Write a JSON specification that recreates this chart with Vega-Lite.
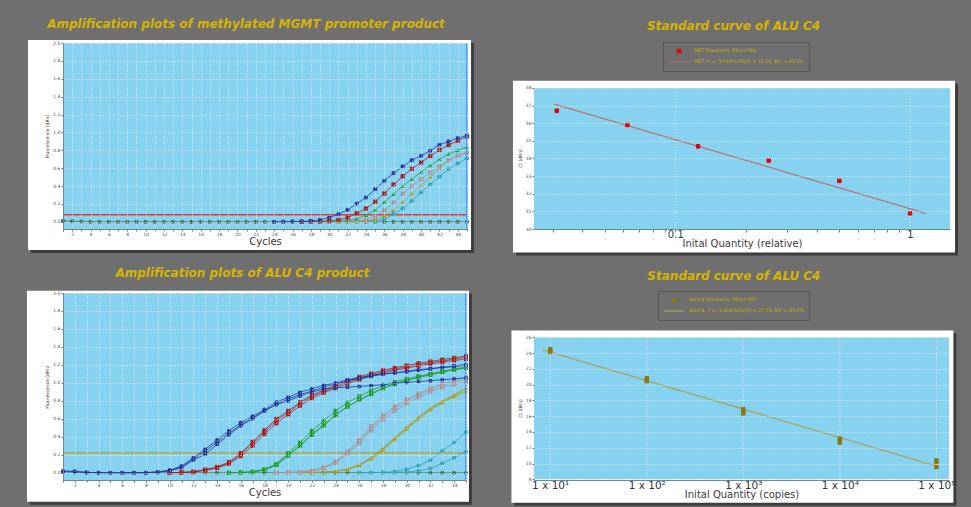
{
"$schema": "https://vega.github.io/schema/vega-lite/v6.json",
"background": "#6f6f6f",
"padding": {"left": 26, "top": 17, "right": 14, "bottom": 2},
"columns": 2,
"spacing": {"row": 64, "column": 67},
"bounds": "flush",
"align": "each",
"resolve": {"scale": {"color": "independent", "shape": "independent", "size": "independent"}, "legend": {"color": "independent", "shape": "independent", "size": "independent"}},
"config": {
  "view": {"stroke": null},
  "font": "DejaVu Sans",
  "axis": {"labelFont": "DejaVu Sans", "titleFont": "DejaVu Sans", "labelColor": "#4a4a4a", "titleColor": "#3a3a3a", "titleFontWeight": "normal", "tickColor": "#6a7a80", "domainColor": "#6a8a9a", "gridColor": "#ffffff", "gridDash": [1, 2], "gridOpacity": 0.75, "labelOverlap": false, "labelFlush": false},
  "title": {"font": "DejaVu Sans", "fontSize": 12, "fontStyle": "italic", "fontWeight": "bold", "color": "#d6b400", "anchor": "middle", "frame": "bounds"},
  "legend": {"title": "Log fit values", "orient": "none", "direction": "vertical", "titleAnchor": "middle", "titleColor": "#c8b400", "titleFontSize": 5, "titleFontWeight": "normal", "titlePadding": 4, "labelColor": "#c8b400", "labelFontSize": 4.7, "labelLimit": 300, "labelOffset": 4, "fillColor": "#6f6f6f", "strokeColor": "#555555", "padding": 5, "rowPadding": 3, "symbolStrokeWidth": 1.2, "clipHeight": 8}
},
"datasets": {
  "tl": [
    {"g":"N","c":1,"v":0.01},{"g":"N","c":2,"v":0.006},{"g":"N","c":3,"v":0.003},{"g":"N","c":4,"v":0},{"g":"N","c":5,"v":0},{"g":"N","c":6,"v":0},{"g":"N","c":7,"v":0},{"g":"N","c":8,"v":0},{"g":"N","c":9,"v":0},{"g":"N","c":10,"v":0},{"g":"N","c":11,"v":0},{"g":"N","c":12,"v":0},{"g":"N","c":13,"v":0},{"g":"N","c":14,"v":0},{"g":"N","c":15,"v":0},{"g":"N","c":16,"v":0},{"g":"N","c":17,"v":0},{"g":"N","c":18,"v":0},{"g":"N","c":19,"v":0},{"g":"N","c":20,"v":0},{"g":"N","c":21,"v":0},{"g":"N","c":22,"v":0},{"g":"N","c":23,"v":0},{"g":"N","c":24,"v":0},{"g":"N","c":25,"v":0},{"g":"N","c":26,"v":0},{"g":"N","c":27,"v":0},{"g":"N","c":28,"v":0},{"g":"N","c":29,"v":0},{"g":"N","c":30,"v":0},{"g":"N","c":31,"v":0},{"g":"N","c":32,"v":0},{"g":"N","c":33,"v":0},{"g":"N","c":34,"v":0},{"g":"N","c":35,"v":0},{"g":"N","c":36,"v":0},{"g":"N","c":37,"v":0},{"g":"N","c":38,"v":0},{"g":"N","c":39,"v":0},{"g":"N","c":40,"v":0},{"g":"N","c":41,"v":0},{"g":"N","c":42,"v":0},{"g":"N","c":43,"v":0},{"g":"N","c":44,"v":0},{"g":"N","c":45,"v":0},
    {"g":"T","c":32,"v":0},{"g":"T","c":33,"v":0.003},{"g":"T","c":34,"v":0.007},{"g":"T","c":35,"v":0.012},{"g":"T","c":36,"v":0.03},{"g":"T","c":37,"v":0.085},{"g":"T","c":38,"v":0.15},{"g":"T","c":39,"v":0.235},{"g":"T","c":40,"v":0.33},{"g":"T","c":41,"v":0.42},{"g":"T","c":42,"v":0.505},{"g":"T","c":43,"v":0.59},{"g":"T","c":44,"v":0.655},{"g":"T","c":45,"v":0.71},
    {"g":"Y","c":31,"v":0},{"g":"Y","c":32,"v":0.003},{"g":"Y","c":33,"v":0.006},{"g":"Y","c":34,"v":0.01},{"g":"Y","c":35,"v":0.025},{"g":"Y","c":36,"v":0.065},{"g":"Y","c":37,"v":0.13},{"g":"Y","c":38,"v":0.22},{"g":"Y","c":39,"v":0.315},{"g":"Y","c":40,"v":0.41},{"g":"Y","c":41,"v":0.5},{"g":"Y","c":42,"v":0.6},{"g":"Y","c":43,"v":0.69},{"g":"Y","c":44,"v":0.74},{"g":"Y","c":45,"v":0.775},
    {"g":"P","c":30,"v":0},{"g":"P","c":31,"v":0.003},{"g":"P","c":32,"v":0.007},{"g":"P","c":33,"v":0.012},{"g":"P","c":34,"v":0.025},{"g":"P","c":35,"v":0.06},{"g":"P","c":36,"v":0.13},{"g":"P","c":37,"v":0.215},{"g":"P","c":38,"v":0.315},{"g":"P","c":39,"v":0.4},{"g":"P","c":40,"v":0.478},{"g":"P","c":41,"v":0.552},{"g":"P","c":42,"v":0.62},{"g":"P","c":43,"v":0.69},{"g":"P","c":44,"v":0.74},{"g":"P","c":45,"v":0.776},
    {"g":"G","c":29,"v":0},{"g":"G","c":30,"v":0.004},{"g":"G","c":31,"v":0.008},{"g":"G","c":32,"v":0.016},{"g":"G","c":33,"v":0.035},{"g":"G","c":34,"v":0.075},{"g":"G","c":35,"v":0.135},{"g":"G","c":36,"v":0.22},{"g":"G","c":37,"v":0.31},{"g":"G","c":38,"v":0.4},{"g":"G","c":39,"v":0.48},{"g":"G","c":40,"v":0.555},{"g":"G","c":41,"v":0.63},{"g":"G","c":42,"v":0.7},{"g":"G","c":43,"v":0.76},{"g":"G","c":44,"v":0.8},{"g":"G","c":45,"v":0.835},
    {"g":"R","c":27,"v":0},{"g":"R","c":28,"v":0.003},{"g":"R","c":29,"v":0.006},{"g":"R","c":30,"v":0.012},{"g":"R","c":31,"v":0.022},{"g":"R","c":32,"v":0.048},{"g":"R","c":33,"v":0.095},{"g":"R","c":34,"v":0.149},{"g":"R","c":35,"v":0.225},{"g":"R","c":36,"v":0.317},{"g":"R","c":37,"v":0.418},{"g":"R","c":38,"v":0.51},{"g":"R","c":39,"v":0.593},{"g":"R","c":40,"v":0.664},{"g":"R","c":41,"v":0.737},{"g":"R","c":42,"v":0.804},{"g":"R","c":43,"v":0.86},{"g":"R","c":44,"v":0.907},{"g":"R","c":45,"v":0.955},
    {"g":"B","c":24,"v":0},{"g":"B","c":25,"v":0.002},{"g":"B","c":26,"v":0.004},{"g":"B","c":27,"v":0.006},{"g":"B","c":28,"v":0.011},{"g":"B","c":29,"v":0.022},{"g":"B","c":30,"v":0.048},{"g":"B","c":31,"v":0.086},{"g":"B","c":32,"v":0.134},{"g":"B","c":33,"v":0.205},{"g":"B","c":34,"v":0.272},{"g":"B","c":35,"v":0.365},{"g":"B","c":36,"v":0.459},{"g":"B","c":37,"v":0.545},{"g":"B","c":38,"v":0.619},{"g":"B","c":39,"v":0.69},{"g":"B","c":40,"v":0.739},{"g":"B","c":41,"v":0.795},{"g":"B","c":42,"v":0.862},{"g":"B","c":43,"v":0.9},{"g":"B","c":44,"v":0.937},{"g":"B","c":45,"v":0.966}
  ],
  "bl": [
    {"s":"N","c":1,"v":0.01},{"s":"N","c":2,"v":0.005},{"s":"N","c":3,"v":0},{"s":"N","c":4,"v":0},{"s":"N","c":5,"v":0},{"s":"N","c":6,"v":0},{"s":"N","c":7,"v":0},{"s":"N","c":8,"v":0},{"s":"N","c":9,"v":0},{"s":"N","c":10,"v":0},{"s":"N","c":11,"v":0},{"s":"N","c":12,"v":0},{"s":"N","c":13,"v":0},{"s":"N","c":14,"v":0},{"s":"N","c":15,"v":0},{"s":"N","c":16,"v":0},{"s":"N","c":17,"v":0},{"s":"N","c":18,"v":0},{"s":"N","c":19,"v":0},{"s":"N","c":20,"v":0},{"s":"N","c":21,"v":0},{"s":"N","c":22,"v":0},{"s":"N","c":23,"v":0},{"s":"N","c":24,"v":0},{"s":"N","c":25,"v":0},{"s":"N","c":26,"v":0},{"s":"N","c":27,"v":0},{"s":"N","c":28,"v":0},{"s":"N","c":29,"v":0},{"s":"N","c":30,"v":0},{"s":"N","c":31,"v":0},{"s":"N","c":32,"v":0},{"s":"N","c":33,"v":0},{"s":"N","c":34,"v":0},{"s":"N","c":35,"v":0},
    {"s":"T2","c":28,"v":0},{"s":"T2","c":29,"v":0.004},{"s":"T2","c":30,"v":0.01},{"s":"T2","c":31,"v":0.02},{"s":"T2","c":32,"v":0.05},{"s":"T2","c":33,"v":0.105},{"s":"T2","c":34,"v":0.168},{"s":"T2","c":35,"v":0.235},
    {"s":"T1","c":26,"v":0},{"s":"T1","c":27,"v":0.002},{"s":"T1","c":28,"v":0.005},{"s":"T1","c":29,"v":0.015},{"s":"T1","c":30,"v":0.04},{"s":"T1","c":31,"v":0.08},{"s":"T1","c":32,"v":0.14},{"s":"T1","c":33,"v":0.245},{"s":"T1","c":34,"v":0.336},{"s":"T1","c":35,"v":0.455},
    {"s":"Y1","c":21,"v":0},{"s":"Y1","c":22,"v":0.003},{"s":"Y1","c":23,"v":0.008},{"s":"Y1","c":24,"v":0.015},{"s":"Y1","c":25,"v":0.04},{"s":"Y1","c":26,"v":0.085},{"s":"Y1","c":27,"v":0.165},{"s":"Y1","c":28,"v":0.265},{"s":"Y1","c":29,"v":0.385},{"s":"Y1","c":30,"v":0.5},{"s":"Y1","c":31,"v":0.61},{"s":"Y1","c":32,"v":0.71},{"s":"Y1","c":33,"v":0.79},{"s":"Y1","c":34,"v":0.86},{"s":"Y1","c":35,"v":0.93},
    {"s":"Y2","c":21,"v":0},{"s":"Y2","c":22,"v":0.002},{"s":"Y2","c":23,"v":0.006},{"s":"Y2","c":24,"v":0.013},{"s":"Y2","c":25,"v":0.035},{"s":"Y2","c":26,"v":0.08},{"s":"Y2","c":27,"v":0.155},{"s":"Y2","c":28,"v":0.25},{"s":"Y2","c":29,"v":0.37},{"s":"Y2","c":30,"v":0.485},{"s":"Y2","c":31,"v":0.6},{"s":"Y2","c":32,"v":0.7},{"s":"Y2","c":33,"v":0.78},{"s":"Y2","c":34,"v":0.845},{"s":"Y2","c":35,"v":0.905},
    {"s":"Y3","c":21,"v":0},{"s":"Y3","c":22,"v":0.003},{"s":"Y3","c":23,"v":0.009},{"s":"Y3","c":24,"v":0.017},{"s":"Y3","c":25,"v":0.042},{"s":"Y3","c":26,"v":0.09},{"s":"Y3","c":27,"v":0.17},{"s":"Y3","c":28,"v":0.275},{"s":"Y3","c":29,"v":0.395},{"s":"Y3","c":30,"v":0.51},{"s":"Y3","c":31,"v":0.62},{"s":"Y3","c":32,"v":0.72},{"s":"Y3","c":33,"v":0.8},{"s":"Y3","c":34,"v":0.87},{"s":"Y3","c":35,"v":0.95},
    {"s":"P1","c":19,"v":0},{"s":"P1","c":20,"v":0.004},{"s":"P1","c":21,"v":0.01},{"s":"P1","c":22,"v":0.025},{"s":"P1","c":23,"v":0.06},{"s":"P1","c":24,"v":0.125},{"s":"P1","c":25,"v":0.24},{"s":"P1","c":26,"v":0.37},{"s":"P1","c":27,"v":0.52},{"s":"P1","c":28,"v":0.64},{"s":"P1","c":29,"v":0.74},{"s":"P1","c":30,"v":0.82},{"s":"P1","c":31,"v":0.88},{"s":"P1","c":32,"v":0.94},{"s":"P1","c":33,"v":0.99},{"s":"P1","c":34,"v":1.03},{"s":"P1","c":35,"v":1.06},
    {"s":"P2","c":19,"v":0},{"s":"P2","c":20,"v":0.003},{"s":"P2","c":21,"v":0.008},{"s":"P2","c":22,"v":0.02},{"s":"P2","c":23,"v":0.05},{"s":"P2","c":24,"v":0.11},{"s":"P2","c":25,"v":0.21},{"s":"P2","c":26,"v":0.33},{"s":"P2","c":27,"v":0.47},{"s":"P2","c":28,"v":0.59},{"s":"P2","c":29,"v":0.69},{"s":"P2","c":30,"v":0.77},{"s":"P2","c":31,"v":0.84},{"s":"P2","c":32,"v":0.9},{"s":"P2","c":33,"v":0.95},{"s":"P2","c":34,"v":0.98},{"s":"P2","c":35,"v":1.01},
    {"s":"P3","c":19,"v":0},{"s":"P3","c":20,"v":0.003},{"s":"P3","c":21,"v":0.009},{"s":"P3","c":22,"v":0.022},{"s":"P3","c":23,"v":0.055},{"s":"P3","c":24,"v":0.12},{"s":"P3","c":25,"v":0.225},{"s":"P3","c":26,"v":0.35},{"s":"P3","c":27,"v":0.5},{"s":"P3","c":28,"v":0.62},{"s":"P3","c":29,"v":0.72},{"s":"P3","c":30,"v":0.8},{"s":"P3","c":31,"v":0.865},{"s":"P3","c":32,"v":0.925},{"s":"P3","c":33,"v":0.975},{"s":"P3","c":34,"v":1.01},{"s":"P3","c":35,"v":1.04},
    {"s":"G1","c":15,"v":0},{"s":"G1","c":16,"v":0.004},{"s":"G1","c":17,"v":0.012},{"s":"G1","c":18,"v":0.04},{"s":"G1","c":19,"v":0.1},{"s":"G1","c":20,"v":0.22},{"s":"G1","c":21,"v":0.336},{"s":"G1","c":22,"v":0.467},{"s":"G1","c":23,"v":0.58},{"s":"G1","c":24,"v":0.69},{"s":"G1","c":25,"v":0.78},{"s":"G1","c":26,"v":0.85},{"s":"G1","c":27,"v":0.915},{"s":"G1","c":28,"v":0.97},{"s":"G1","c":29,"v":1.01},{"s":"G1","c":30,"v":1.045},{"s":"G1","c":31,"v":1.075},{"s":"G1","c":32,"v":1.1},{"s":"G1","c":33,"v":1.13},{"s":"G1","c":34,"v":1.155},{"s":"G1","c":35,"v":1.175},
    {"s":"G2","c":15,"v":0},{"s":"G2","c":16,"v":0.003},{"s":"G2","c":17,"v":0.01},{"s":"G2","c":18,"v":0.035},{"s":"G2","c":19,"v":0.09},{"s":"G2","c":20,"v":0.2},{"s":"G2","c":21,"v":0.306},{"s":"G2","c":22,"v":0.43},{"s":"G2","c":23,"v":0.534},{"s":"G2","c":24,"v":0.646},{"s":"G2","c":25,"v":0.74},{"s":"G2","c":26,"v":0.81},{"s":"G2","c":27,"v":0.878},{"s":"G2","c":28,"v":0.945},{"s":"G2","c":29,"v":0.99},{"s":"G2","c":30,"v":1.03},{"s":"G2","c":31,"v":1.065},{"s":"G2","c":32,"v":1.095},{"s":"G2","c":33,"v":1.12},{"s":"G2","c":34,"v":1.145},{"s":"G2","c":35,"v":1.165},
    {"s":"G3","c":15,"v":0},{"s":"G3","c":16,"v":0.003},{"s":"G3","c":17,"v":0.009},{"s":"G3","c":18,"v":0.03},{"s":"G3","c":19,"v":0.085},{"s":"G3","c":20,"v":0.19},{"s":"G3","c":21,"v":0.3},{"s":"G3","c":22,"v":0.42},{"s":"G3","c":23,"v":0.525},{"s":"G3","c":24,"v":0.64},{"s":"G3","c":25,"v":0.735},{"s":"G3","c":26,"v":0.81},{"s":"G3","c":27,"v":0.875},{"s":"G3","c":28,"v":0.94},{"s":"G3","c":29,"v":0.985},{"s":"G3","c":30,"v":1.025},{"s":"G3","c":31,"v":1.06},{"s":"G3","c":32,"v":1.09},{"s":"G3","c":33,"v":1.12},{"s":"G3","c":34,"v":1.15},{"s":"G3","c":35,"v":1.17},
    {"s":"R1","c":10,"v":0},{"s":"R1","c":11,"v":0.004},{"s":"R1","c":12,"v":0.01},{"s":"R1","c":13,"v":0.033},{"s":"R1","c":14,"v":0.06},{"s":"R1","c":15,"v":0.11},{"s":"R1","c":16,"v":0.206},{"s":"R1","c":17,"v":0.33},{"s":"R1","c":18,"v":0.458},{"s":"R1","c":19,"v":0.579},{"s":"R1","c":20,"v":0.673},{"s":"R1","c":21,"v":0.77},{"s":"R1","c":22,"v":0.85},{"s":"R1","c":23,"v":0.905},{"s":"R1","c":24,"v":0.96},{"s":"R1","c":25,"v":1.01},{"s":"R1","c":26,"v":1.05},{"s":"R1","c":27,"v":1.09},{"s":"R1","c":28,"v":1.125},{"s":"R1","c":29,"v":1.155},{"s":"R1","c":30,"v":1.18},{"s":"R1","c":31,"v":1.205},{"s":"R1","c":32,"v":1.225},{"s":"R1","c":33,"v":1.245},{"s":"R1","c":34,"v":1.265},{"s":"R1","c":35,"v":1.285},
    {"s":"R2","c":10,"v":0},{"s":"R2","c":11,"v":0.003},{"s":"R2","c":12,"v":0.008},{"s":"R2","c":13,"v":0.028},{"s":"R2","c":14,"v":0.052},{"s":"R2","c":15,"v":0.1},{"s":"R2","c":16,"v":0.185},{"s":"R2","c":17,"v":0.3},{"s":"R2","c":18,"v":0.43},{"s":"R2","c":19,"v":0.55},{"s":"R2","c":20,"v":0.65},{"s":"R2","c":21,"v":0.745},{"s":"R2","c":22,"v":0.83},{"s":"R2","c":23,"v":0.89},{"s":"R2","c":24,"v":0.94},{"s":"R2","c":25,"v":0.99},{"s":"R2","c":26,"v":1.035},{"s":"R2","c":27,"v":1.075},{"s":"R2","c":28,"v":1.11},{"s":"R2","c":29,"v":1.14},{"s":"R2","c":30,"v":1.165},{"s":"R2","c":31,"v":1.19},{"s":"R2","c":32,"v":1.21},{"s":"R2","c":33,"v":1.23},{"s":"R2","c":34,"v":1.25},{"s":"R2","c":35,"v":1.265},
    {"s":"R3","c":10,"v":0},{"s":"R3","c":11,"v":0.005},{"s":"R3","c":12,"v":0.012},{"s":"R3","c":13,"v":0.036},{"s":"R3","c":14,"v":0.066},{"s":"R3","c":15,"v":0.12},{"s":"R3","c":16,"v":0.22},{"s":"R3","c":17,"v":0.345},{"s":"R3","c":18,"v":0.475},{"s":"R3","c":19,"v":0.6},{"s":"R3","c":20,"v":0.69},{"s":"R3","c":21,"v":0.785},{"s":"R3","c":22,"v":0.865},{"s":"R3","c":23,"v":0.92},{"s":"R3","c":24,"v":0.975},{"s":"R3","c":25,"v":1.025},{"s":"R3","c":26,"v":1.07},{"s":"R3","c":27,"v":1.105},{"s":"R3","c":28,"v":1.14},{"s":"R3","c":29,"v":1.17},{"s":"R3","c":30,"v":1.195},{"s":"R3","c":31,"v":1.22},{"s":"R3","c":32,"v":1.24},{"s":"R3","c":33,"v":1.26},{"s":"R3","c":34,"v":1.28},{"s":"R3","c":35,"v":1.3},
    {"s":"B3","c":6,"v":0},{"s":"B3","c":7,"v":0},{"s":"B3","c":8,"v":0.002},{"s":"B3","c":9,"v":0.009},{"s":"B3","c":10,"v":0.025},{"s":"B3","c":11,"v":0.065},{"s":"B3","c":12,"v":0.155},{"s":"B3","c":13,"v":0.24},{"s":"B3","c":14,"v":0.34},{"s":"B3","c":15,"v":0.44},{"s":"B3","c":16,"v":0.535},{"s":"B3","c":17,"v":0.61},{"s":"B3","c":18,"v":0.69},{"s":"B3","c":19,"v":0.76},{"s":"B3","c":20,"v":0.8},{"s":"B3","c":21,"v":0.855},{"s":"B3","c":22,"v":0.9},{"s":"B3","c":23,"v":0.93},{"s":"B3","c":24,"v":0.946},{"s":"B3","c":25,"v":0.953},{"s":"B3","c":26,"v":0.961},{"s":"B3","c":27,"v":0.97},{"s":"B3","c":28,"v":0.98},{"s":"B3","c":29,"v":0.995},{"s":"B3","c":30,"v":1.005},{"s":"B3","c":31,"v":1.015},{"s":"B3","c":32,"v":1.025},{"s":"B3","c":33,"v":1.035},{"s":"B3","c":34,"v":1.045},{"s":"B3","c":35,"v":1.057},
    {"s":"B2","c":1,"v":0.015},{"s":"B2","c":2,"v":0.012},{"s":"B2","c":3,"v":0.004},{"s":"B2","c":4,"v":0},{"s":"B2","c":5,"v":0},{"s":"B2","c":6,"v":0},{"s":"B2","c":7,"v":0},{"s":"B2","c":8,"v":0.002},{"s":"B2","c":9,"v":0.008},{"s":"B2","c":10,"v":0.02},{"s":"B2","c":11,"v":0.056},{"s":"B2","c":12,"v":0.142},{"s":"B2","c":13,"v":0.206},{"s":"B2","c":14,"v":0.317},{"s":"B2","c":15,"v":0.422},{"s":"B2","c":16,"v":0.523},{"s":"B2","c":17,"v":0.6},{"s":"B2","c":18,"v":0.69},{"s":"B2","c":19,"v":0.76},{"s":"B2","c":20,"v":0.82},{"s":"B2","c":21,"v":0.87},{"s":"B2","c":22,"v":0.91},{"s":"B2","c":23,"v":0.953},{"s":"B2","c":24,"v":0.99},{"s":"B2","c":25,"v":1.02},{"s":"B2","c":26,"v":1.05},{"s":"B2","c":27,"v":1.075},{"s":"B2","c":28,"v":1.095},{"s":"B2","c":29,"v":1.11},{"s":"B2","c":30,"v":1.125},{"s":"B2","c":31,"v":1.14},{"s":"B2","c":32,"v":1.155},{"s":"B2","c":33,"v":1.17},{"s":"B2","c":34,"v":1.18},{"s":"B2","c":35,"v":1.195},
    {"s":"B1","c":1,"v":0.02},{"s":"B1","c":2,"v":0.018},{"s":"B1","c":3,"v":0.006},{"s":"B1","c":4,"v":0.002},{"s":"B1","c":5,"v":0},{"s":"B1","c":6,"v":0},{"s":"B1","c":7,"v":0},{"s":"B1","c":8,"v":0.002},{"s":"B1","c":9,"v":0.01},{"s":"B1","c":10,"v":0.03},{"s":"B1","c":11,"v":0.075},{"s":"B1","c":12,"v":0.168},{"s":"B1","c":13,"v":0.262},{"s":"B1","c":14,"v":0.366},{"s":"B1","c":15,"v":0.467},{"s":"B1","c":16,"v":0.56},{"s":"B1","c":17,"v":0.628},{"s":"B1","c":18,"v":0.703},{"s":"B1","c":19,"v":0.785},{"s":"B1","c":20,"v":0.84},{"s":"B1","c":21,"v":0.897},{"s":"B1","c":22,"v":0.934},{"s":"B1","c":23,"v":0.975},{"s":"B1","c":24,"v":1.0},{"s":"B1","c":25,"v":1.035},{"s":"B1","c":26,"v":1.058},{"s":"B1","c":27,"v":1.085},{"s":"B1","c":28,"v":1.1},{"s":"B1","c":29,"v":1.114},{"s":"B1","c":30,"v":1.128},{"s":"B1","c":31,"v":1.147},{"s":"B1","c":32,"v":1.16},{"s":"B1","c":33,"v":1.175},{"s":"B1","c":34,"v":1.19},{"s":"B1","c":35,"v":1.205}
  ],
  "trp": [
    {"q":0.03125,"ct":36.71,"lg":"MET Standards, RSq:0.981"},
    {"q":0.0625,"ct":35.9,"lg":"MET Standards, RSq:0.981"},
    {"q":0.125,"ct":34.69,"lg":"MET Standards, RSq:0.981"},
    {"q":0.25,"ct":33.88,"lg":"MET Standards, RSq:0.981"},
    {"q":0.5,"ct":32.73,"lg":"MET Standards, RSq:0.981"},
    {"q":1,"ct":30.89,"lg":"MET Standards, RSq:0.981"}
  ],
  "trf": [
    {"q":0.0305,"ct":37.09,"lg":"MET, Y = -3.910*LOG(X) + 31.16, Eff. = 80.2%"},
    {"q":1.17,"ct":30.89,"lg":"MET, Y = -3.910*LOG(X) + 31.16, Eff. = 80.2%"}
  ],
  "brp": [
    {"q":10,"ct":24.5,"lg":"ALUC4 Standards, RSq:0.997"},
    {"q":10,"ct":24.3,"lg":"ALUC4 Standards, RSq:0.997"},
    {"q":10,"ct":24.15,"lg":"ALUC4 Standards, RSq:0.997"},
    {"q":100,"ct":20.8,"lg":"ALUC4 Standards, RSq:0.997"},
    {"q":100,"ct":20.6,"lg":"ALUC4 Standards, RSq:0.997"},
    {"q":100,"ct":20.45,"lg":"ALUC4 Standards, RSq:0.997"},
    {"q":1000,"ct":16.9,"lg":"ALUC4 Standards, RSq:0.997"},
    {"q":1000,"ct":16.6,"lg":"ALUC4 Standards, RSq:0.997"},
    {"q":1000,"ct":16.35,"lg":"ALUC4 Standards, RSq:0.997"},
    {"q":10000,"ct":13.15,"lg":"ALUC4 Standards, RSq:0.997"},
    {"q":10000,"ct":12.9,"lg":"ALUC4 Standards, RSq:0.997"},
    {"q":10000,"ct":12.65,"lg":"ALUC4 Standards, RSq:0.997"},
    {"q":100000,"ct":10.4,"lg":"ALUC4 Standards, RSq:0.997"},
    {"q":100000,"ct":10.2,"lg":"ALUC4 Standards, RSq:0.997"},
    {"q":100000,"ct":9.55,"lg":"ALUC4 Standards, RSq:0.997"}
  ],
  "brf": [
    {"q":8.34,"ct":24.42,"lg":"ALUC4, Y = -3.618*LOG(X) + 27.75, Eff. = 89.0%"},
    {"q":106400,"ct":9.56,"lg":"ALUC4, Y = -3.618*LOG(X) + 27.75, Eff. = 89.0%"}
  ]
},
"concat": [
  {
    "width": 404, "height": 186,
    "title": {"text": "Amplification plots of methylated MGMT promoter product", "offset": 9, "dx": -5},
    "layer": [
      {"data": {"values": [{}]}, "mark": {"type": "rect", "color": "#3d3d3d"}, "encoding": {"x": {"datum": -2.48}, "x2": {"datum": 45.77}, "y": {"datum": 2.0}, "y2": {"datum": -0.349}}},
      {"data": {"values": [{}]}, "mark": {"type": "rect", "color": "#ffffff"}, "encoding": {"x": {"datum": -2.81}, "x2": {"datum": 45.44}, "y": {"datum": 2.034}, "y2": {"datum": -0.315}}},
      {"data": {"values": [{}]}, "mark": {"type": "rect", "color": "#87d2f0"}, "encoding": {"x": {"datum": 1}, "x2": {"datum": 45}, "y": {"datum": -0.08}, "y2": {"datum": 2.0}}},
      {"data": {"values": [{}]}, "mark": {"type": "rule", "color": "#e53a3a", "strokeWidth": 1.6}, "encoding": {"y": {"datum": 0.08}}},
      {"data": {"name": "tl"}, "mark": {"type": "line", "strokeWidth": 1, "opacity": 0.75},
       "encoding": {
         "x": {"field": "c", "type": "quantitative", "scale": {"domain": [1, 45], "nice": false, "zero": false},
               "axis": {"zindex": 1, "grid": true, "labelOverlap": false, "tickCount": 100, "format": "d", "values": [1,2,3,4,5,6,7,8,9,10,11,12,13,14,15,16,17,18,19,20,21,22,23,24,25,26,27,28,29,30,31,32,33,34,35,36,37,38,39,40,41,42,43,44,45], "labelExpr": "datum.value % 2 == 0 ? datum.label : ''", "labelFontSize": 4.5, "labelPadding": 0, "tickSize": 2, "title": "Cycles", "titleFontSize": 10, "titlePadding": 1}},
         "y": {"field": "v", "type": "quantitative", "scale": {"domain": [-0.08, 2.0], "nice": false, "zero": false},
               "axis": {"zindex": 1, "grid": true, "labelOverlap": false, "tickCount": 100, "values": [0,0.2,0.4,0.6,0.8,1.0,1.2,1.4,1.6,1.8,2.0], "format": ".1f", "labelFontSize": 4.5, "labelPadding": 1, "tickSize": 2, "title": "Fluorescence (dRn)", "titleFontSize": 4.5, "titlePadding": 3}},
         "color": {"field": "g", "type": "nominal", "scale": {"domain": ["N","T","Y","P","G","R","B"], "range": ["#3c6e4a","#2aa2b4","#a89a18","#a8929a","#1f9c2e","#a51d1d","#22339e"]}, "legend": null},
         "detail": {"field": "g"}}},
      {"data": {"name": "tl"}, "mark": {"type": "point", "filled": true, "size": 18, "opacity": 1},
       "encoding": {
         "x": {"field": "c", "type": "quantitative"},
         "y": {"field": "v", "type": "quantitative"},
         "color": {"field": "g", "type": "nominal", "legend": null},
         "shape": {"field": "g", "type": "nominal", "scale": {"domain": ["N","T","Y","P","G","R","B"], "range": ["circle","circle","triangle-up","square","triangle-up","square","circle"]}, "legend": null}}},
      {"data": {"values": [{}]}, "mark": {"type": "rule", "color": "#2f8fff", "strokeWidth": 1.5}, "encoding": {"x": {"datum": 45}}}
    ]
  },
  {
    "width": 416, "height": 186,
    "title": {"text": "Standard curve of ALU  C4", "offset": 9, "dx": -2},
    "layer": [
      {"data": {"values": [{}]}, "mark": {"type": "rect", "color": "#3d3d3d"}, "encoding": {"x": {"datum": 0.02095}, "x2": {"datum": 1.601}, "y": {"datum": 38.24}, "y2": {"datum": 28.49}}},
      {"data": {"values": [{}]}, "mark": {"type": "rect", "color": "#ffffff"}, "encoding": {"x": {"datum": 0.02034}, "x2": {"datum": 1.555}, "y": {"datum": 38.41}, "y2": {"datum": 28.66}}},
      {"data": {"values": [{}]}, "mark": {"type": "rect", "color": "#87d2f0"}, "encoding": {"x": {"datum": 0.025}, "x2": {"datum": 1.48}, "y": {"datum": 30}, "y2": {"datum": 38}}},
      {"data": {"values": [{"q": 0.1}, {"q": 1}]}, "mark": {"type": "rule", "color": "#ffffff", "strokeDash": [1, 2], "opacity": 0.8}, "encoding": {"x": {"field": "q", "type": "quantitative"}, "y": {"datum": 30}, "y2": {"datum": 38}}},
      {"data": {"name": "trf"}, "mark": {"type": "line", "strokeWidth": 1.3},
       "encoding": {
         "x": {"field": "q", "type": "quantitative", "scale": {"type": "log", "domain": [0.025, 1.48], "nice": false},
               "axis": {"zindex": 1, "labelOverlap": false, "tickCount": 100, "values": [0.03,0.04,0.05,0.06,0.07,0.08,0.09,0.1,0.2,0.3,0.4,0.5,0.6,0.7,0.8,0.9,1], "labelExpr": "datum.value == 0.1 ? '0.1' : datum.value == 1 ? '1' : ''", "labelFontSize": 10, "labelColor": "#333333", "labelPadding": -3, "tickSize": 3, "grid": false, "title": "Inital Quantity (relative)", "titleFontSize": 10, "titlePadding": -1}},
         "y": {"field": "ct", "type": "quantitative", "scale": {"domain": [30, 40.553], "nice": false, "zero": false},
               "axis": {"zindex": 1, "grid": true, "labelOverlap": false, "tickCount": 100, "format": "d", "values": [30,31,32,33,34,35,36,37,38], "domain": false, "labelFontSize": 4.5, "labelPadding": 1, "tickSize": 2, "title": "Ct (dRn)", "titleFontSize": 4.5, "titlePadding": 3, "titleY": 115}},
         "color": {"field": "lg", "type": "nominal", "scale": {"domain": ["MET Standards, RSq:0.981", "MET, Y = -3.910*LOG(X) + 31.16, Eff. = 80.2%"], "range": ["#e80000", "#b87474"]},
                   "legend": {"legendX": 129, "legendY": -1}}}},
      {"data": {"name": "trp"}, "mark": {"type": "point", "filled": false, "fill": "#e80000", "strokeWidth": 1, "opacity": 1},
       "encoding": {
         "x": {"field": "q", "type": "quantitative"},
         "y": {"field": "ct", "type": "quantitative"},
         "color": {"field": "lg", "type": "nominal", "legend": {"legendX": 129, "legendY": -1}},
         "shape": {"field": "lg", "type": "nominal", "scale": {"domain": ["MET Standards, RSq:0.981", "MET, Y = -3.910*LOG(X) + 31.16, Eff. = 80.2%"], "range": ["square", "stroke"]}, "legend": {"legendX": 129, "legendY": -1}},
         "size": {"field": "lg", "type": "nominal", "scale": {"type": "ordinal", "domain": ["MET Standards, RSq:0.981", "MET, Y = -3.910*LOG(X) + 31.16, Eff. = 80.2%"], "range": [12, 400]}, "legend": {"legendX": 129, "legendY": -1}}}}
    ]
  },
  {
    "width": 403, "height": 187,
    "title": {"text": "Amplification plots of ALU C4 product", "offset": 10, "dx": -7},
    "layer": [
      {"data": {"values": [{}]}, "mark": {"type": "rect", "color": "#3d3d3d"}, "encoding": {"x": {"datum": -1.79}, "x2": {"datum": 35.5}, "y": {"datum": 1.993}, "y2": {"datum": -0.354}}},
      {"data": {"values": [{}]}, "mark": {"type": "rect", "color": "#ffffff"}, "encoding": {"x": {"datum": -2.04}, "x2": {"datum": 35.25}, "y": {"datum": 2.026}, "y2": {"datum": -0.321}}},
      {"data": {"values": [{}]}, "mark": {"type": "rect", "color": "#87d2f0"}, "encoding": {"x": {"datum": 1}, "x2": {"datum": 35}, "y": {"datum": -0.08}, "y2": {"datum": 2.0}}},
      {"data": {"values": [{}]}, "mark": {"type": "rule", "color": "#b4a437", "strokeWidth": 1.6}, "encoding": {"y": {"datum": 0.22}}},
      {"data": {"name": "bl"}, "mark": {"type": "line", "strokeWidth": 1, "opacity": 0.75},
       "encoding": {
         "x": {"field": "c", "type": "quantitative", "scale": {"domain": [1, 35], "nice": false, "zero": false},
               "axis": {"zindex": 1, "grid": true, "labelOverlap": false, "tickCount": 100, "format": "d", "values": [1,2,3,4,5,6,7,8,9,10,11,12,13,14,15,16,17,18,19,20,21,22,23,24,25,26,27,28,29,30,31,32,33,34,35], "labelExpr": "datum.value % 2 == 0 ? datum.label : ''", "labelFontSize": 4.5, "labelPadding": 0, "tickSize": 2, "title": "Cycles", "titleFontSize": 10, "titlePadding": 1}},
         "y": {"field": "v", "type": "quantitative", "scale": {"domain": [-0.08, 2.0], "nice": false, "zero": false},
               "axis": {"zindex": 1, "grid": true, "labelOverlap": false, "tickCount": 100, "values": [0,0.2,0.4,0.6,0.8,1.0,1.2,1.4,1.6,1.8,2.0], "format": ".1f", "labelFontSize": 4.5, "labelPadding": 1, "tickSize": 2, "title": "Fluorescence (dRn)", "titleFontSize": 4.5, "titlePadding": 3}},
         "color": {"field": "s", "type": "nominal", "scale": {"domain": ["N","T2","T1","Y1","Y2","Y3","P1","P2","P3","G1","G2","G3","R1","R2","R3","B3","B2","B1"], "range": ["#3c6e4a","#2aa2b4","#2aa2b4","#a89a18","#a89a18","#a89a18","#a8929a","#a8929a","#a8929a","#1f9c2e","#1f9c2e","#1f9c2e","#a51d1d","#a51d1d","#a51d1d","#22339e","#22339e","#22339e"]}, "legend": null},
         "detail": {"field": "s"}}},
      {"data": {"name": "bl"}, "mark": {"type": "point", "filled": true, "size": 16, "opacity": 1},
       "encoding": {
         "x": {"field": "c", "type": "quantitative"},
         "y": {"field": "v", "type": "quantitative"},
         "color": {"field": "s", "type": "nominal", "legend": null},
         "shape": {"field": "s", "type": "nominal", "scale": {"domain": ["N","T2","T1","Y1","Y2","Y3","P1","P2","P3","G1","G2","G3","R1","R2","R3","B3","B2","B1"], "range": ["circle","circle","circle","triangle-up","triangle-up","triangle-up","square","square","square","square","square","square","square","square","square","circle","circle","circle"]}, "legend": null}}},
      {"data": {"values": [{}]}, "mark": {"type": "rule", "color": "#2f8fff", "strokeWidth": 1.5}, "encoding": {"x": {"datum": 35}}}
    ]
  },
  {
    "width": 415, "height": 187,
    "title": {"text": "Standard curve of ALU  C4", "offset": 8, "dx": 0},
    "layer": [
      {"data": {"values": [{}]}, "mark": {"type": "rect", "color": "#3d3d3d"}, "encoding": {"x": {"datum": 4.26}, "x2": {"datum": 161000}, "y": {"datum": 26.47}, "y2": {"datum": 4.65}}},
      {"data": {"values": [{}]}, "mark": {"type": "rect", "color": "#ffffff"}, "encoding": {"x": {"datum": 3.97}, "x2": {"datum": 149900}, "y": {"datum": 26.85}, "y2": {"datum": 5.03}}},
      {"data": {"values": [{}]}, "mark": {"type": "rect", "color": "#87d2f0"}, "encoding": {"x": {"datum": 6.8}, "x2": {"datum": 135000}, "y": {"datum": 8}, "y2": {"datum": 26}}},
      {"data": {"values": [{"q": 10}, {"q": 100}, {"q": 1000}, {"q": 10000}, {"q": 100000}]}, "mark": {"type": "rule", "color": "#ffffff", "strokeDash": [1, 2], "opacity": 0.8}, "encoding": {"x": {"field": "q", "type": "quantitative"}, "y": {"datum": 8}, "y2": {"datum": 26}}},
      {"data": {"name": "brf"}, "mark": {"type": "line", "strokeWidth": 1.3},
       "encoding": {
         "x": {"field": "q", "type": "quantitative", "scale": {"type": "log", "domain": [6.8, 135000], "nice": false},
               "axis": {"zindex": 1, "labelOverlap": false, "tickCount": 100, "values": [10,100,1000,10000,100000], "labelExpr": "'1 x 10' + (datum.value == 10 ? '¹' : datum.value == 100 ? '²' : datum.value == 1000 ? '³' : datum.value == 10000 ? '⁴' : '⁵')", "labelFontSize": 10.5, "labelColor": "#333333", "labelPadding": 0, "ticks": false, "grid": false, "title": "Inital Quantity (copies)", "titleFontSize": 10, "titlePadding": -1}},
         "y": {"field": "ct", "type": "quantitative", "scale": {"domain": [7.911, 31.615], "nice": false, "zero": false},
               "axis": {"zindex": 1, "grid": true, "labelOverlap": false, "tickCount": 100, "format": "d", "values": [8,10,12,14,16,18,20,22,24,26], "domain": false, "labelFontSize": 4.5, "labelPadding": 1, "tickSize": 2, "title": "Ct (dRn)", "titleFontSize": 4.5, "titlePadding": 3, "titleY": 115}},
         "color": {"field": "lg", "type": "nominal", "scale": {"domain": ["ALUC4 Standards, RSq:0.997", "ALUC4, Y = -3.618*LOG(X) + 27.75, Eff. = 89.0%"], "range": ["#8a7814", "#a8a45a"]},
                   "legend": {"legendX": 124, "legendY": -2}}}},
      {"data": {"name": "brp"}, "mark": {"type": "point", "filled": false, "fill": "#8a7814", "strokeWidth": 1, "opacity": 1},
       "encoding": {
         "x": {"field": "q", "type": "quantitative"},
         "y": {"field": "ct", "type": "quantitative"},
         "color": {"field": "lg", "type": "nominal", "legend": {"legendX": 124, "legendY": -2}},
         "shape": {"field": "lg", "type": "nominal", "scale": {"domain": ["ALUC4 Standards, RSq:0.997", "ALUC4, Y = -3.618*LOG(X) + 27.75, Eff. = 89.0%"], "range": ["square", "stroke"]}, "legend": {"legendX": 124, "legendY": -2}},
         "size": {"field": "lg", "type": "nominal", "scale": {"type": "ordinal", "domain": ["ALUC4 Standards, RSq:0.997", "ALUC4, Y = -3.618*LOG(X) + 27.75, Eff. = 89.0%"], "range": [12, 400]}, "legend": {"legendX": 124, "legendY": -2}}}}
    ]
  }
]
}
